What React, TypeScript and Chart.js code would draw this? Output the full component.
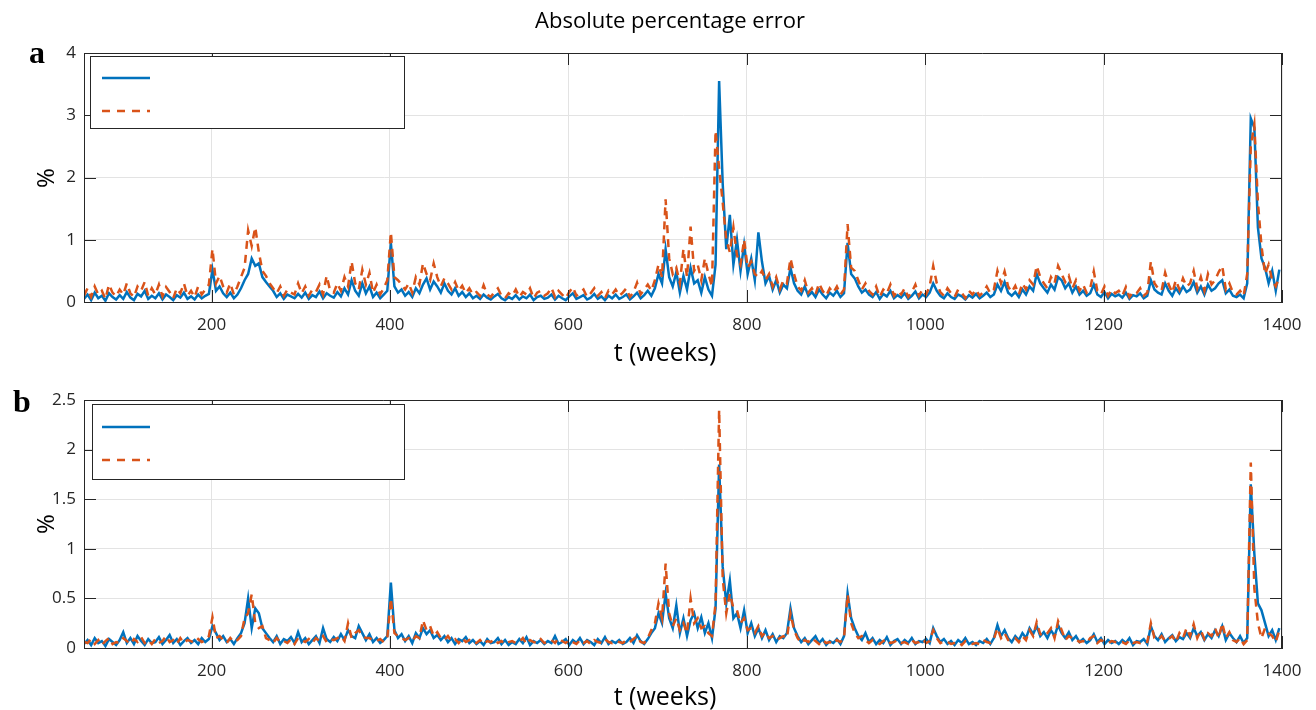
import React, { useEffect, useRef } from "react";
import { Chart, registerables } from "chart.js";

Chart.register(...registerables);

// weeks: WEEK_START, WEEK_START + WEEK_STEP, ...
const WEEK_START = 57;
const WEEK_STEP = 4;
const X_MIN = 57;
const X_MAX = 1400;
const X_TICKS = [200, 400, 600, 800, 1000, 1200, 1400];
const A_Y_TICKS = [0, 1, 2, 3, 4];
const B_Y_TICKS = [0, 0.5, 1, 1.5, 2, 2.5];

const TITLE = "Absolute percentage error";
const X_LABEL = "t (weeks)";
const Y_LABEL = "%";

// Panel a — solid (blue) series
const A_BLUE = [
  0.05,0.12,0.03,0.15,0.06,0.10,0.02,0.14,0.08,0.04,
  0.11,0.05,0.16,0.07,0.03,0.13,0.09,0.18,0.05,0.10,
  0.06,0.14,0.04,0.12,0.08,0.03,0.11,0.07,0.15,0.05,
  0.09,0.04,0.12,0.06,0.10,0.13,0.52,0.18,0.25,0.14,
  0.08,0.15,0.06,0.12,0.22,0.35,0.45,0.70,0.58,0.62,
  0.40,0.32,0.25,0.18,0.08,0.14,0.05,0.12,0.09,0.06,
  0.13,0.07,0.15,0.05,0.11,0.08,0.17,0.06,0.14,0.10,
  0.07,0.16,0.09,0.22,0.12,0.35,0.18,0.10,0.30,0.14,
  0.25,0.08,0.15,0.06,0.12,0.18,0.95,0.25,0.15,0.20,
  0.10,0.16,0.08,0.22,0.14,0.28,0.38,0.20,0.33,0.25,
  0.15,0.30,0.18,0.12,0.22,0.10,0.16,0.08,0.14,0.06,
  0.10,0.05,0.12,0.07,0.04,0.09,0.13,0.06,0.03,0.08,
  0.05,0.11,0.04,0.09,0.06,0.12,0.03,0.08,0.10,0.05,
  0.07,0.12,0.04,0.10,0.06,0.03,0.09,0.14,0.05,0.08,
  0.11,0.04,0.07,0.13,0.05,0.09,0.03,0.10,0.06,0.12,
  0.05,0.08,0.12,0.04,0.09,0.15,0.06,0.11,0.18,0.10,
  0.22,0.45,0.30,0.85,0.40,0.25,0.48,0.15,0.42,0.20,
  0.55,0.30,0.35,0.15,0.40,0.20,0.10,0.60,3.55,1.90,
  0.85,1.40,0.60,1.00,0.50,0.92,0.45,0.70,0.35,1.12,
  0.65,0.30,0.42,0.20,0.35,0.15,0.28,0.22,0.55,0.30,
  0.18,0.12,0.25,0.10,0.16,0.08,0.20,0.12,0.06,0.15,
  0.10,0.18,0.08,0.14,0.95,0.45,0.38,0.25,0.15,0.20,
  0.12,0.08,0.16,0.05,0.13,0.09,0.18,0.06,0.11,0.07,
  0.14,0.05,0.10,0.17,0.06,0.12,0.08,0.15,0.30,0.18,
  0.10,0.06,0.14,0.08,0.05,0.12,0.09,0.04,0.11,0.07,
  0.13,0.06,0.10,0.15,0.08,0.12,0.28,0.18,0.32,0.15,
  0.10,0.16,0.08,0.20,0.12,0.25,0.18,0.45,0.30,0.22,
  0.15,0.28,0.20,0.40,0.35,0.22,0.30,0.15,0.25,0.12,
  0.18,0.10,0.14,0.28,0.12,0.08,0.16,0.06,0.13,0.09,
  0.12,0.07,0.15,0.05,0.11,0.09,0.14,0.06,0.10,0.35,
  0.20,0.15,0.12,0.30,0.18,0.10,0.22,0.14,0.25,0.16,
  0.20,0.32,0.15,0.25,0.12,0.28,0.18,0.22,0.30,0.35,
  0.14,0.20,0.10,0.08,0.12,0.06,0.30,2.95,2.80,1.20,
  0.70,0.55,0.30,0.50,0.18,0.52,
];

// Panel a — dashed (orange) series
const A_ORANGE = [
  0.10,0.22,0.08,0.25,0.12,0.18,0.05,0.28,0.15,0.09,
  0.20,0.12,0.30,0.14,0.08,0.25,0.18,0.32,0.10,0.22,
  0.12,0.28,0.09,0.24,0.16,0.06,0.22,0.14,0.30,0.10,
  0.18,0.08,0.25,0.12,0.20,0.28,0.85,0.30,0.42,0.25,
  0.15,0.30,0.12,0.25,0.40,0.55,1.15,0.90,1.20,0.80,
  0.50,0.42,0.30,0.22,0.14,0.25,0.10,0.20,0.15,0.12,
  0.30,0.14,0.25,0.10,0.20,0.16,0.28,0.12,0.42,0.18,
  0.15,0.30,0.18,0.40,0.25,0.65,0.30,0.20,0.52,0.28,
  0.47,0.15,0.28,0.12,0.22,0.35,1.12,0.40,0.35,0.28,
  0.20,0.30,0.15,0.40,0.28,0.62,0.45,0.35,0.62,0.40,
  0.25,0.38,0.30,0.20,0.32,0.18,0.26,0.14,0.22,0.12,
  0.16,0.10,0.27,0.12,0.08,0.16,0.22,0.10,0.06,0.14,
  0.10,0.20,0.08,0.16,0.12,0.22,0.06,0.15,0.18,0.10,
  0.14,0.23,0.08,0.18,0.12,0.06,0.16,0.24,0.10,0.15,
  0.20,0.08,0.14,0.22,0.10,0.16,0.06,0.18,0.12,0.20,
  0.10,0.15,0.22,0.08,0.16,0.31,0.12,0.20,0.28,0.18,
  0.35,0.60,0.40,1.65,0.70,0.45,0.55,0.30,0.85,0.40,
  1.21,0.50,0.60,0.35,0.70,0.45,0.25,2.75,2.15,1.60,
  1.00,0.80,1.20,0.75,0.60,1.00,0.55,0.65,0.45,0.40,
  0.50,0.35,0.45,0.25,0.40,0.20,0.35,0.30,0.70,0.45,
  0.25,0.18,0.35,0.15,0.22,0.12,0.30,0.18,0.10,0.22,
  0.15,0.25,0.12,0.20,1.25,0.55,0.50,0.35,0.20,0.30,
  0.18,0.12,0.25,0.08,0.20,0.14,0.28,0.10,0.18,0.12,
  0.22,0.08,0.16,0.28,0.10,0.20,0.12,0.25,0.58,0.30,
  0.16,0.10,0.22,0.14,0.08,0.20,0.15,0.06,0.18,0.12,
  0.20,0.10,0.16,0.25,0.14,0.20,0.50,0.30,0.49,0.25,
  0.16,0.26,0.12,0.30,0.20,0.35,0.28,0.58,0.40,0.30,
  0.22,0.40,0.30,0.58,0.45,0.32,0.42,0.22,0.35,0.18,
  0.28,0.15,0.22,0.49,0.18,0.12,0.25,0.10,0.20,0.14,
  0.18,0.10,0.24,0.08,0.16,0.14,0.22,0.10,0.15,0.65,
  0.30,0.22,0.18,0.47,0.28,0.15,0.35,0.20,0.38,0.25,
  0.30,0.50,0.22,0.40,0.18,0.45,0.28,0.35,0.48,0.58,
  0.20,0.30,0.15,0.12,0.18,0.10,0.45,2.50,2.85,1.60,
  0.90,0.45,0.60,0.35,0.25,0.40,
];

// Panel b — solid (blue) series
const B_BLUE = [
  0.04,0.08,0.03,0.10,0.05,0.07,0.02,0.09,0.06,0.03,
  0.08,0.16,0.05,0.10,0.04,0.12,0.07,0.03,0.09,0.05,
  0.06,0.11,0.04,0.08,0.13,0.05,0.09,0.03,0.07,0.10,
  0.05,0.08,0.04,0.10,0.06,0.09,0.22,0.15,0.08,0.12,
  0.06,0.09,0.04,0.10,0.15,0.25,0.50,0.20,0.40,0.35,
  0.20,0.15,0.10,0.06,0.12,0.04,0.09,0.07,0.11,0.05,
  0.16,0.06,0.10,0.04,0.08,0.12,0.05,0.20,0.09,0.06,
  0.11,0.07,0.14,0.08,0.18,0.12,0.10,0.22,0.15,0.08,
  0.14,0.06,0.10,0.05,0.08,0.12,0.66,0.18,0.10,0.14,
  0.07,0.12,0.05,0.15,0.10,0.20,0.14,0.18,0.10,0.13,
  0.08,0.12,0.06,0.10,0.04,0.09,0.07,0.11,0.05,0.08,
  0.04,0.07,0.03,0.09,0.05,0.06,0.10,0.04,0.08,0.03,
  0.06,0.04,0.09,0.05,0.11,0.03,0.07,0.05,0.08,0.04,
  0.07,0.05,0.12,0.04,0.06,0.09,0.03,0.08,0.05,0.10,
  0.04,0.08,0.06,0.03,0.09,0.05,0.11,0.04,0.07,0.05,
  0.08,0.04,0.06,0.10,0.05,0.13,0.07,0.04,0.09,0.15,
  0.20,0.35,0.25,0.55,0.30,0.20,0.43,0.15,0.30,0.12,
  0.28,0.35,0.20,0.31,0.15,0.25,0.10,0.40,1.85,0.82,
  0.45,0.68,0.30,0.35,0.20,0.38,0.15,0.25,0.12,0.20,
  0.10,0.18,0.08,0.14,0.06,0.12,0.10,0.15,0.40,0.20,
  0.12,0.06,0.10,0.04,0.08,0.12,0.05,0.09,0.03,0.07,
  0.05,0.09,0.04,0.12,0.55,0.30,0.20,0.12,0.08,0.15,
  0.06,0.10,0.04,0.08,0.05,0.11,0.03,0.07,0.09,0.04,
  0.08,0.05,0.10,0.04,0.07,0.06,0.09,0.05,0.20,0.12,
  0.06,0.09,0.04,0.07,0.03,0.08,0.05,0.10,0.04,0.06,
  0.03,0.07,0.05,0.09,0.04,0.10,0.23,0.12,0.18,0.10,
  0.06,0.12,0.08,0.15,0.10,0.20,0.14,0.22,0.12,0.16,
  0.10,0.18,0.12,0.23,0.15,0.10,0.16,0.08,0.12,0.06,
  0.09,0.05,0.08,0.14,0.06,0.10,0.04,0.08,0.05,0.07,
  0.04,0.08,0.05,0.10,0.03,0.07,0.06,0.09,0.04,0.22,
  0.12,0.08,0.14,0.06,0.10,0.13,0.07,0.11,0.09,0.15,
  0.10,0.20,0.12,0.16,0.08,0.14,0.10,0.18,0.12,0.22,
  0.08,0.15,0.10,0.06,0.12,0.05,0.10,1.65,0.95,0.45,
  0.38,0.25,0.12,0.18,0.08,0.20,
];

// Panel b — dashed (orange) series
const B_ORANGE = [
  0.06,0.05,0.09,0.04,0.08,0.03,0.07,0.10,0.04,0.06,
  0.05,0.10,0.07,0.04,0.09,0.06,0.11,0.05,0.08,0.04,
  0.09,0.05,0.07,0.12,0.06,0.08,0.04,0.10,0.05,0.08,
  0.07,0.05,0.09,0.06,0.08,0.12,0.31,0.10,0.12,0.08,
  0.05,0.10,0.06,0.08,0.12,0.30,0.35,0.54,0.25,0.20,
  0.22,0.10,0.08,0.05,0.10,0.06,0.07,0.05,0.09,0.04,
  0.10,0.08,0.06,0.09,0.05,0.10,0.07,0.12,0.06,0.09,
  0.08,0.10,0.12,0.07,0.25,0.10,0.15,0.18,0.12,0.10,
  0.10,0.08,0.07,0.09,0.06,0.10,0.50,0.15,0.12,0.10,
  0.08,0.10,0.07,0.12,0.10,0.28,0.18,0.22,0.12,0.16,
  0.10,0.08,0.12,0.07,0.09,0.05,0.10,0.06,0.08,0.05,
  0.05,0.08,0.04,0.07,0.06,0.09,0.05,0.07,0.04,0.06,
  0.07,0.05,0.06,0.10,0.04,0.08,0.06,0.05,0.09,0.05,
  0.06,0.08,0.05,0.10,0.07,0.05,0.08,0.06,0.04,0.08,
  0.05,0.07,0.04,0.08,0.06,0.05,0.09,0.06,0.05,0.07,
  0.06,0.05,0.08,0.06,0.09,0.12,0.06,0.05,0.10,0.18,
  0.25,0.45,0.30,0.85,0.35,0.22,0.30,0.18,0.25,0.15,
  0.50,0.25,0.30,0.20,0.22,0.15,0.12,0.45,2.40,0.70,
  0.35,0.55,0.40,0.38,0.25,0.30,0.18,0.20,0.15,0.22,
  0.12,0.16,0.10,0.12,0.08,0.10,0.12,0.10,0.35,0.18,
  0.10,0.05,0.08,0.06,0.10,0.07,0.04,0.08,0.05,0.06,
  0.04,0.08,0.06,0.10,0.54,0.25,0.15,0.10,0.12,0.08,
  0.05,0.08,0.06,0.04,0.07,0.09,0.05,0.06,0.08,0.05,
  0.06,0.04,0.08,0.05,0.06,0.09,0.05,0.07,0.18,0.10,
  0.05,0.07,0.06,0.04,0.05,0.06,0.03,0.07,0.05,0.04,
  0.05,0.04,0.08,0.06,0.05,0.09,0.20,0.10,0.15,0.08,
  0.08,0.10,0.06,0.12,0.08,0.18,0.12,0.26,0.14,0.12,
  0.15,0.20,0.10,0.27,0.18,0.08,0.12,0.10,0.09,0.06,
  0.07,0.05,0.10,0.12,0.05,0.08,0.06,0.05,0.07,0.06,
  0.05,0.06,0.04,0.08,0.05,0.06,0.05,0.07,0.06,0.25,
  0.10,0.08,0.12,0.07,0.09,0.12,0.06,0.15,0.10,0.20,
  0.12,0.24,0.10,0.18,0.09,0.15,0.12,0.20,0.10,0.25,
  0.10,0.16,0.08,0.06,0.10,0.04,0.08,1.87,0.60,0.25,
  0.10,0.20,0.15,0.12,0.06,0.18,
];

const BLUE = "#0072BD";
const ORANGE = "#D95319";
const AXIS = "#262626";
const GRID = "#e3e3e3";
const FONT = "'Open Sans', sans-serif";

const toPoints = (vals: number[]) =>
  vals.map((v, i) => ({ x: WEEK_START + i * WEEK_STEP, y: v }));

type LegendSpec = { x0: number; x1: number; y0: number; y1: number; l0: number; l1: number; yBlue: number; yOrange: number };

const framePlugin = (legend: LegendSpec) => ({
  id: "frame",
  afterDatasetsDraw(chart: any) {
    const { ctx, chartArea, scales } = chart;
    const { left, right, top, bottom } = chartArea;
    const x = scales.x;
    const y = scales.y;
    ctx.save();
    ctx.strokeStyle = AXIS;
    ctx.lineWidth = 1;
    ctx.beginPath();
    ctx.rect(Math.round(left) + 0.5, Math.round(top) + 0.5, Math.round(right - left) - 1, Math.round(bottom - top));
    ctx.stroke();
    const TL = 12;
    ctx.beginPath();
    for (const t of x.ticks) {
      const px = Math.round(x.getPixelForValue(t.value)) + 0.5;
      ctx.moveTo(px, bottom);
      ctx.lineTo(px, bottom - TL);
      ctx.moveTo(px, top);
      ctx.lineTo(px, top + TL);
    }
    for (const t of y.ticks) {
      const py = Math.round(y.getPixelForValue(t.value)) + 0.5;
      ctx.moveTo(left, py);
      ctx.lineTo(left + TL, py);
      ctx.moveTo(right, py);
      ctx.lineTo(right - TL, py);
    }
    ctx.stroke();
    // legend box (no labels)
    ctx.fillStyle = "#ffffff";
    ctx.fillRect(legend.x0, legend.y0, legend.x1 - legend.x0, legend.y1 - legend.y0);
    ctx.strokeStyle = AXIS;
    ctx.strokeRect(legend.x0 + 0.5, legend.y0 + 0.5, legend.x1 - legend.x0, legend.y1 - legend.y0);
    ctx.lineWidth = 2.5;
    ctx.strokeStyle = BLUE;
    ctx.beginPath();
    ctx.moveTo(legend.l0, legend.yBlue);
    ctx.lineTo(legend.l1, legend.yBlue);
    ctx.stroke();
    ctx.strokeStyle = ORANGE;
    ctx.setLineDash([8, 7]);
    ctx.beginPath();
    ctx.moveTo(legend.l0, legend.yOrange);
    ctx.lineTo(legend.l1, legend.yOrange);
    ctx.stroke();
    ctx.restore();
  },
});

function makeConfig(blue: number[], orange: number[], yTicks: number[], padTop: number, xHeight: number, legend: LegendSpec): any {
  const yMax = yTicks[yTicks.length - 1];
  return {
    type: "line",
    data: {
      datasets: [
        { data: toPoints(blue), borderColor: BLUE, borderWidth: 2.5, pointRadius: 0, tension: 0, order: 1, fill: false },
        { data: toPoints(orange), borderColor: ORANGE, borderWidth: 2.5, borderDash: [8, 6], pointRadius: 0, tension: 0, order: 0, fill: false },
      ],
    },
    options: {
      animation: false,
      responsive: false,
      devicePixelRatio: 1,
      events: [],
      layout: { padding: { left: 0, top: padTop, right: 34, bottom: 0 } },
      plugins: { legend: { display: false }, tooltip: { enabled: false }, title: { display: false } },
      scales: {
        x: {
          type: "linear",
          min: X_MIN,
          max: X_MAX,
          afterBuildTicks: (s: any) => { s.ticks = X_TICKS.map((value) => ({ value })); },
          afterFit: (s: any) => { s.height = xHeight; },
          grid: { color: GRID, drawTicks: false },
          border: { display: true, color: AXIS },
          ticks: { padding: 13, color: AXIS, font: { family: FONT, size: 17 }, callback: (v: any) => String(v), maxRotation: 0 },
        },
        y: {
          type: "linear",
          min: 0,
          max: yMax,
          afterBuildTicks: (s: any) => { s.ticks = yTicks.map((value) => ({ value })); },
          afterFit: (s: any) => { s.width = 84; },
          grid: { color: GRID, drawTicks: false },
          border: { display: true, color: AXIS },
          ticks: { padding: 8, color: AXIS, font: { family: FONT, size: 17 }, callback: (v: any) => String(v) },
        },
      },
    },
    plugins: [framePlugin(legend)],
  };
}

const abs = (extra: React.CSSProperties): React.CSSProperties => ({ position: "absolute", whiteSpace: "nowrap", lineHeight: 1, ...extra });

export default function App() {
  const refA = useRef<HTMLCanvasElement>(null);
  const refB = useRef<HTMLCanvasElement>(null);

  useEffect(() => {
    const a = new Chart(
      refA.current as HTMLCanvasElement,
      makeConfig(A_BLUE, A_ORANGE, A_Y_TICKS, 53, 53, { x0: 90, x1: 404, y0: 56, y1: 128, l0: 102, l1: 150, yBlue: 78, yOrange: 111 })
    );
    const b = new Chart(
      refB.current as HTMLCanvasElement,
      makeConfig(B_BLUE, B_ORANGE, B_Y_TICKS, 45, 62, { x0: 92, x1: 404, y0: 49, y1: 124, l0: 102, l1: 150, yBlue: 72, yOrange: 105 })
    );
    return () => {
      a.destroy();
      b.destroy();
    };
  }, []);

  return (
    <div style={{ position: "fixed", left: 0, top: 0, width: 1316, height: 710, background: "#fff", fontFamily: FONT, color: "#000", overflow: "hidden" }}>
      <canvas ref={refA} width={1316} height={355} style={{ position: "absolute", left: 0, top: 0, width: 1316, height: 355 }} />
      <canvas ref={refB} width={1316} height={355} style={{ position: "absolute", left: 0, top: 355, width: 1316, height: 355 }} />
      <div style={abs({ left: 670, top: 19, transform: "translate(-50%,-50%)", fontSize: 22 })}>{TITLE}</div>
      <div style={abs({ left: 665, top: 351, transform: "translate(-50%,-50%)", fontSize: 25 })}>{X_LABEL}</div>
      <div style={abs({ left: 665, top: 695, transform: "translate(-50%,-50%)", fontSize: 25 })}>{X_LABEL}</div>
      <div style={abs({ left: 45, top: 178, transform: "translate(-50%,-50%) rotate(-90deg)", fontSize: 24 })}>{Y_LABEL}</div>
      <div style={abs({ left: 45, top: 524, transform: "translate(-50%,-50%) rotate(-90deg)", fontSize: 24 })}>{Y_LABEL}</div>
      <div style={abs({ left: 29, top: 36, fontFamily: "'Liberation Serif', serif", fontWeight: 700, fontSize: 32 })}>a</div>
      <div style={abs({ left: 13, top: 385, fontFamily: "'Liberation Serif', serif", fontWeight: 700, fontSize: 32 })}>b</div>
    </div>
  );
}
